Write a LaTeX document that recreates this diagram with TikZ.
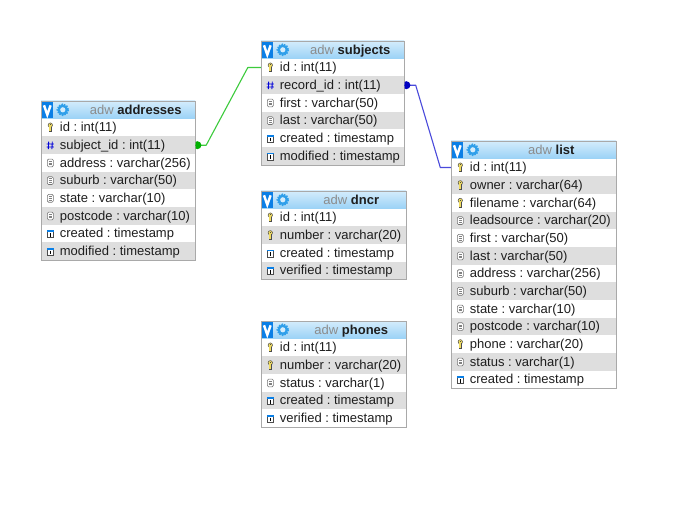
\documentclass[tikz,border=0pt]{standalone}
\usepackage{fontspec}
\setmainfont{Liberation Sans}
\usetikzlibrary{calc}
\definecolor{edge}{HTML}{A9A9A9}
\definecolor{rowgray}{HTML}{DEDEDE}
\definecolor{ink}{HTML}{1E1E1E}
\definecolor{hdtop}{HTML}{D4ECFC}
\definecolor{hdbot}{HTML}{9AD2F6}
\definecolor{iconblue}{HTML}{0A7FE6}
\definecolor{gearblue}{HTML}{2F9FEA}
\definecolor{keyy}{HTML}{F0DC60}
\definecolor{linkg}{HTML}{3CCB3C}
\definecolor{dotg}{HTML}{00B000}
\definecolor{linkb}{HTML}{4A4ADB}
\definecolor{dotb}{HTML}{0000C0}
\tikzset{
  x=1pt,y=-1pt,
  rowtext/.style={font=\fontsize{13}{15}\selectfont\frenchspacing,text=ink,anchor=base west,inner sep=0pt},
  titletext/.style={font=\fontsize{13}{15}\selectfont\frenchspacing,text=ink,anchor=base,inner sep=0pt},
  rowbox/.style={draw=none,inner sep=0pt,anchor=north west},
  tablebox/.style={draw=edge,line width=1pt,inner sep=0pt,anchor=north west,fill=none},
  headbox/.style={draw=none,inner sep=0pt,anchor=north west,top color=hdtop,bottom color=hdbot},
  link/.style={line width=1.1pt,line join=round},
}
\newcommand{\iconk}[2]{% key
  \fill[keyy,draw=black!70,line width=.5pt] (#1,#2-2.2) circle (2.2);
  \fill[keyy,draw=black!70,line width=.5pt] (#1-1.3,#2-.4) rectangle (#1+1.3,#2+4.2);
  \fill[keyy] (#1-1,#2-1) rectangle (#1+1,#2+3.9);
  \fill[black!70] (#1-.7,#2-2.9) rectangle (#1+.7,#2-2.2);
}
\newcommand{\iconh}[2]{% hash
  \draw[blue!85!black,line width=.9pt] (#1-1.6,#2-3.4) -- (#1-2,#2+4.2) (#1+2,#2-3.4) -- (#1+1.6,#2+4.2)
    (#1-3.6,#2-1) -- (#1+3.6,#2-1) (#1-3.6,#2+2) -- (#1+3.6,#2+2);
}
\newcommand{\icond}[2]{% text field
  \draw[black!55,fill=white,line width=.6pt,rounded corners=1.3pt] (#1-3,#2-3.6) rectangle (#1+3,#2+4.2);
  \draw[black!50,line width=.5pt] (#1-1.8,#2-1.6) -- (#1+1.8,#2-1.6) (#1-1.8,#2+.2) -- (#1+1.8,#2+.2) (#1-1.8,#2+2) -- (#1+1.8,#2+2);
}
\newcommand{\iconc}[2]{% calendar
  \draw[black!70,fill=white,line width=.6pt] (#1-3,#2-2.2) rectangle (#1+3,#2+4.4);
  \fill[iconblue] (#1-3.3,#2-3) rectangle (#1+3.3,#2-1.2);
  \draw[black,line width=.7pt] (#1,#2-.4) -- (#1,#2+3.2);
}
% name, left, top, right, title, rows (icon/text)
\newcommand{\ertable}[6]{%
  \pgfmathsetmacro{\erw}{#4-#2}
  \foreach \eric/\ertx [count=\eri] in {#6}{%
    \pgfmathsetmacro{\ery}{#3+17.7+(\eri-1)*17.67}
    \pgfmathsetmacro{\erc}{\ery+8.83}
    \pgfmathtruncatemacro{\erodd}{mod(\eri,2)}
    \ifnum\erodd=1\def\erf{white}\else\def\erf{rowgray}\fi
    \node[rowbox,fill=\erf,minimum width=\erw pt,minimum height=17.67pt] (#1-\eri) at (#2,\ery) {};
    \node[rowtext] (#1-\eri-t) at (#2+18.9,\erc+4.6) {\ertx};
    \pgfmathsetmacro{\erx}{#2+9.5}
    \csname icon\eric\endcsname{\erx}{\erc}
    \xdef\erlast{\ery}
  }
  \pgfmathsetmacro{\erh}{\erlast+17.67-#3}
  \node[headbox,minimum width=\erw pt,minimum height=17.7pt] (#1-head) at (#2,#3) {};
  \fill[iconblue] (#2+1,#3+1) rectangle (#2+12,#3+17);
  \draw[white,line width=2.4pt,line join=miter] (#2+3.2,#3+4.5) -- (#2+6.5,#3+14) -- (#2+9.8,#3+4.5);
  \fill[gearblue] (#2+22,#3+9) circle (5.3);
  \draw[gearblue,line width=1.4pt,dash pattern=on 1.5pt off 1.2pt] (#2+22,#3+9) circle (5.6);
  \fill[hdtop] (#2+22,#3+9) circle (2.6);
  \node[titletext] (#1-title) at ($(#2+36,#3+13.6)!.5!(#4,#3+13.6)$) {\textcolor{black!45}{adw} \textbf{#5}};
  \node[tablebox,minimum width=\erw pt,minimum height=\erh pt] (#1) at (#2,#3) {};
}
\begin{document}
\begin{tikzpicture}
\useasboundingbox (0,0) rectangle (682,521);
\fill[white] (0,0) rectangle (682,521);
\ertable{addresses}{40.8}{100.8}{194.8}{addresses}{k/id : int(11),h/subject\_id : int(11),d/address : varchar(256),d/suburb : varchar(50),d/state : varchar(10),d/postcode : varchar(10),c/created : timestamp,c/modified : timestamp}
\ertable{subjects}{260.8}{40.8}{403.8}{subjects}{k/id : int(11),h/record\_id : int(11),d/first : varchar(50),d/last : varchar(50),c/created : timestamp,c/modified : timestamp}
\ertable{dncr}{260.8}{190.8}{405.8}{dncr}{k/id : int(11),k/number : varchar(20),c/created : timestamp,c/verified : timestamp}
\ertable{phones}{260.8}{320.8}{405.8}{phones}{k/id : int(11),k/number : varchar(20),d/status : varchar(1),c/created : timestamp,c/verified : timestamp}
\ertable{list}{450.8}{140.8}{615.8}{list}{k/id : int(11),k/owner : varchar(64),k/filename : varchar(64),d/leadsource : varchar(20),d/first : varchar(50),d/last : varchar(50),d/address : varchar(256),d/suburb : varchar(50),d/state : varchar(10),d/postcode : varchar(10),k/phone : varchar(20),d/status : varchar(1),c/created : timestamp}
% connectors
\draw[link,linkg] (addresses-2.east) -- ++(11,0) -- ($(subjects-1.west)+(-13,0)$) -- (subjects-1.west);
\draw[link,linkb] (subjects-2.east) -- ++(11.5,0) -- ($(list-1.west)+(-10.5,0)$) -- (list-1.west);
\begin{scope}
  \clip ($(addresses-2.east)+(.5,-6)$) rectangle ++(8,12);
  \fill[dotg] ($(addresses-2.east)+(2.2,0)$) circle (4);
\end{scope}
\begin{scope}
  \clip ($(subjects-2.east)+(.5,-6)$) rectangle ++(8,12);
  \fill[dotb] ($(subjects-2.east)+(2.2,0)$) circle (4);
\end{scope}
\end{tikzpicture}
\end{document}
